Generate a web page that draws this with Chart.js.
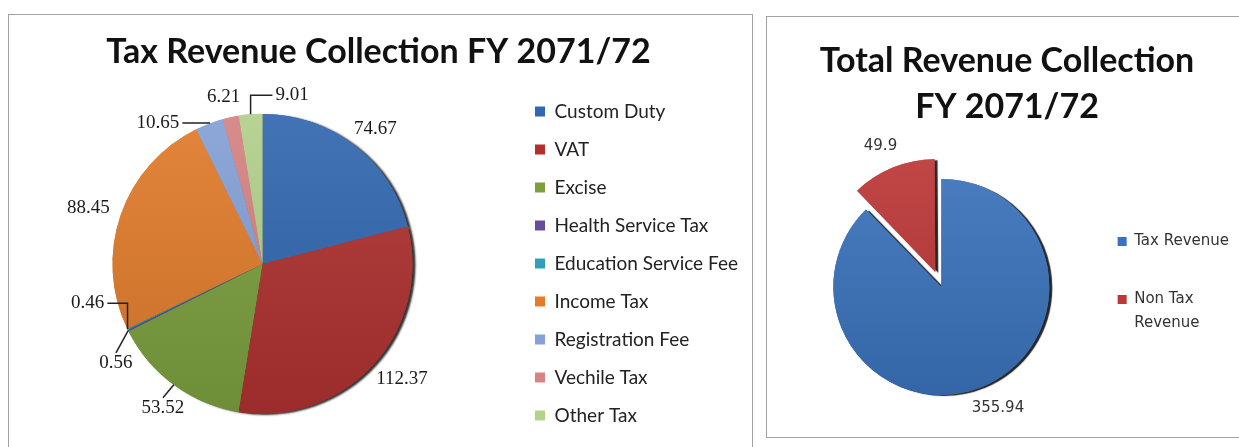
<!DOCTYPE html>
<html>
<head>
<meta charset="utf-8">
<script src="https://cdn.jsdelivr.net/npm/chart.js@4.4.1/dist/chart.umd.min.js"></script>
<style>
  html, body { margin: 0; padding: 0; background: #fff; }
  body { width: 1239px; height: 447px; overflow: hidden; position: relative; }
  .panel { position: absolute; border: 1px solid #a3a3a3; background: #fff; }
  #leftPanel  { left: 8px;   top: 14px; width: 743px; height: 440px; }
  #rightPanel { left: 766px; top: 16px; width: 480px; height: 420px; }
  canvas { display: block; }
</style>
</head>
<body>
<div class="panel" id="leftPanel"><canvas id="taxChart"></canvas></div>
<div class="panel" id="rightPanel"><canvas id="totalChart"></canvas></div>
<script>
// ─── Data ─────────────────────────────────────────────────────────────────────

const taxCategories = [
  'Custom Duty', 'VAT', 'Excise', 'Health Service Tax', 'Education Service Fee',
  'Income Tax', 'Registration Fee', 'Vechile Tax', 'Other Tax',
];
const taxValues = [74.67, 112.37, 53.52, 0.56, 0.46, 88.45, 10.65, 6.21, 9.01];
const taxColors = [
  '#2F67B1', '#B0302E', '#7BA03C', '#6A4C9C', '#30A0B8',
  '#E47C2A', '#84A2D9', '#D88282', '#B3D38C',
];

const totalCategories = ['Tax Revenue', ['Non Tax', 'Revenue']];
const totalValues     = [355.94, 49.9];
const totalColors     = ['#3872BC', '#BE3636'];

// ─── Helpers ──────────────────────────────────────────────────────────────────

function shade(hex, amt) {
  const n = parseInt(hex.slice(1), 16);
  const f = c => Math.round(amt < 0 ? c * (1 + amt) : c + (255 - c) * amt);
  return `rgb(${f(n >> 16)},${f((n >> 8) & 255)},${f(n & 255)})`;
}

// light at the top of the pie, darker at the bottom (Excel 2007 look)
function gradientFill(colors) {
  return (context) => {
    const base = colors[context.dataIndex];
    const area = context.chart.chartArea;
    if (!area || base === undefined) return base;
    const g = context.chart.ctx.createLinearGradient(0, area.top, 0, area.bottom);
    g.addColorStop(0, shade(base, 0.10));
    g.addColorStop(1, shade(base, -0.14));
    return g;
  };
}

// flat legend swatches; optionally pad every entry to the same number of lines
const baseLegendLabels = Chart.overrides.doughnut.plugins.legend.labels.generateLabels;
function flatLegend(colors, minLines = 1) {
  return (chart) => baseLegendLabels(chart).map((item, i) => {
    const lines = [].concat(item.text);
    while (lines.length < minLines) lines.push('');
    return {
      ...item,
      text: lines.length > 1 ? lines : lines[0],
      fillStyle: colors[i], strokeStyle: colors[i], lineWidth: 0,
    };
  });
}

// ─── Plugins ──────────────────────────────────────────────────────────────────

// dark drop shadow under the whole pie, drawn before the slices
const pieShadow = {
  id: 'pieShadow',
  beforeDatasetsDraw(chart, args, opts) {
    const ctx = chart.ctx;
    ctx.save();
    ctx.shadowColor   = opts.color;
    ctx.shadowOffsetX = opts.offsetX;
    ctx.shadowOffsetY = opts.offsetY;
    ctx.shadowBlur    = opts.blur;
    chart.getDatasetMeta(0).data.forEach(arc => arc.draw(ctx));
    ctx.restore();
  },
};

// value labels outside the slices, crowded ones spread apart with leader lines
const sliceLabels = {
  id: 'sliceLabels',
  afterDatasetsDraw(chart, args, opts) {
    const ctx    = chart.ctx;
    const values = chart.data.datasets[0].data;
    const items  = chart.getDatasetMeta(0).data.map((arc, i) => {
      const p    = arc.getProps(['x', 'y', 'startAngle', 'endAngle', 'outerRadius'], true);
      const mid  = (p.startAngle + p.endAngle) / 2;
      const circ = p.endAngle - p.startAngle;
      const off  = (arc.options.offset || 0) / 4;
      const disp = off * (2 - Math.sin(Math.min(Math.PI, circ)));
      return {
        text: String(values[i]), mid, angle: mid, r: p.outerRadius,
        cx: p.x + Math.cos(mid) * disp, cy: p.y + Math.sin(mid) * disp,
      };
    });

    // merge neighbours closer than minGap into clusters and fan them out
    const gap = opts.minGap * Math.PI / 180;
    let groups = items.map(it => [it]);
    let merged = true;
    while (merged) {
      merged = false;
      for (let g = 0; g < groups.length - 1; g++) {
        const a = groups[g], b = groups[g + 1];
        if (b[0].angle - a[a.length - 1].angle < gap) {
          const all  = a.concat(b);
          const mean = all.reduce((s, it) => s + it.mid, 0) / all.length;
          all.forEach((it, k) => { it.angle = mean + (k - (all.length - 1) / 2) * gap; });
          groups.splice(g, 2, all);
          merged = true;
          break;
        }
      }
    }

    ctx.save();
    ctx.font         = opts.font;
    ctx.fillStyle    = opts.color;
    ctx.strokeStyle  = opts.lineColor;
    ctx.lineWidth    = 1.5;
    ctx.textAlign    = 'center';
    ctx.textBaseline = 'middle';
    items.forEach(it => {
      const w  = ctx.measureText(it.text).width;
      const R  = it.r + opts.distance;
      const ca = Math.cos(it.angle), sa = Math.sin(it.angle);
      // the side of the text box facing the pie sits on the anchor circle
      const x = it.cx + ca * R + ca * w / 2;
      const y = it.cy + sa * R + sa * opts.textHeight / 2;
      ctx.fillText(it.text, x, y);
      if (Math.abs(it.angle - it.mid) > 0.01) {
        const sx = it.cx + Math.cos(it.mid) * it.r;
        const sy = it.cy + Math.sin(it.mid) * it.r;
        const hw = w / 2 + 3;
        ctx.beginPath();
        if (sx > x + hw || sx < x - hw) {
          const ex = sx > x ? x + hw : x - hw;
          ctx.moveTo(ex, y);
          ctx.lineTo(sx, y);
          ctx.lineTo(sx, sy);
        } else {
          ctx.moveTo(x, y + (sy > y ? 10 : -10));
          ctx.lineTo(sx, sy);
        }
        ctx.stroke();
      }
    });
    ctx.restore();
  },
};

// ─── Tax Revenue Collection (left) ────────────────────────────────────────────

new Chart(document.getElementById('taxChart'), {
  type: 'pie',
  data: {
    labels: taxCategories,
    datasets: [{
      data: taxValues,
      backgroundColor: gradientFill(taxColors),
      borderWidth: 0,
    }],
  },
  plugins: [pieShadow, sliceLabels],
  options: {
    responsive: true,
    maintainAspectRatio: false,
    animation: false,
    events: [],
    radius: 150,
    layout: { padding: { left: 0, right: 4, bottom: 0 } },
    plugins: {
      title: {
        display: true,
        text: 'Tax Revenue Collection FY 2071/72',
        color: '#111',
        font: { family: 'Lato', size: 34, weight: 'bold', lineHeight: 1.2 },
        padding: { top: 17, bottom: 0 },
      },
      legend: {
        position: 'right',
        align: 'start',
        // empty legend title used as top spacer
        title: { display: true, text: '', font: { size: 10, lineHeight: 1 }, padding: { top: 58, bottom: 0 } },
        labels: {
          boxWidth: 10, boxHeight: 10, padding: 19,
          color: '#222',
          font: { family: 'Lato', size: 19 },
          generateLabels: flatLegend(taxColors),
        },
      },
      tooltip: { enabled: false },
      pieShadow: { color: 'rgba(0,0,0,0.8)', offsetX: 3, offsetY: 1, blur: 2 },
      sliceLabels: {
        font: '19px "Liberation Serif"', color: '#1a1a1a', lineColor: '#222',
        distance: 13, textHeight: 16, minGap: 22,
      },
    },
  },
});

// ─── Total Revenue Collection (right) ─────────────────────────────────────────

new Chart(document.getElementById('totalChart'), {
  type: 'pie',
  data: {
    labels: totalCategories,
    datasets: [{
      data: totalValues,
      backgroundColor: gradientFill(totalColors),
      borderWidth: 0,
      offset: [0, 64],
    }],
  },
  plugins: [pieShadow, sliceLabels],
  options: {
    responsive: true,
    maintainAspectRatio: false,
    animation: false,
    events: [],
    radius: 108,
    layout: { padding: { left: 8, right: 8, bottom: 0 } },
    plugins: {
      title: {
        display: true,
        text: ['Total Revenue Collection', 'FY 2071/72'],
        color: '#111',
        font: { family: 'Lato', size: 34, weight: 'bold', lineHeight: 1.35 },
        padding: { top: 21, bottom: 7 },
      },
      legend: {
        position: 'right',
        align: 'start',
        title: { display: true, text: '', font: { size: 10, lineHeight: 1 }, padding: { top: 197, bottom: 0 } },
        labels: {
          boxWidth: 9, boxHeight: 9, padding: 10,
          color: '#333',
          font: { family: 'DejaVu Sans', size: 15, lineHeight: 1.6 },
          generateLabels: flatLegend(totalColors, 2),
        },
      },
      tooltip: { enabled: false },
      pieShadow: { color: 'rgba(0,0,0,0.85)', offsetX: 3, offsetY: 1, blur: 1 },
      sliceLabels: {
        font: '15px "DejaVu Sans"', color: '#333', lineColor: '#333',
        distance: 16, textHeight: 14, minGap: 22,
      },
    },
  },
});
</script>
</body>
</html>
